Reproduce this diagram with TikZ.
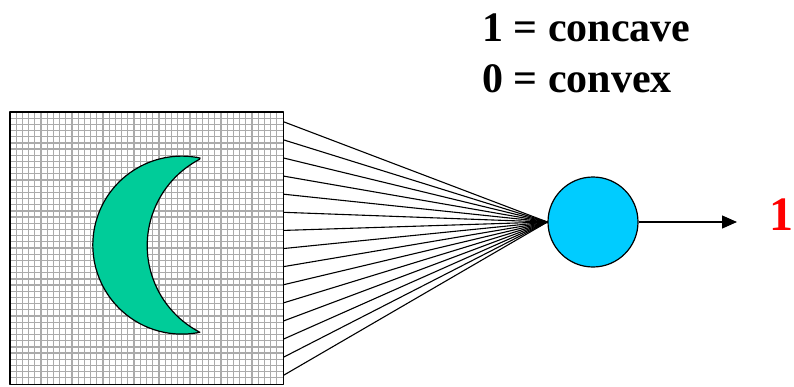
\documentclass[tikz,border=0pt]{standalone}
\usepackage{fontspec}
\setmainfont{Liberation Serif}
\usetikzlibrary{arrows.meta,calc}
\definecolor{moon}{HTML}{00CC99}
\definecolor{cellblue}{HTML}{00CCFF}
\definecolor{gridgray}{HTML}{ABABAB}
\tikzset{
  gridline/.style={draw=gridgray, line width=1.2pt},
  fanline/.style={draw=black, line width=1.1pt},
  legend/.style={anchor=base west, inner sep=0pt, font=\fontsize{42}{46}\selectfont\bfseries},
}
\begin{document}
\begin{tikzpicture}[x=1pt, y=-1pt, line join=round]
\useasboundingbox (0,0) rectangle (794,386);
% retina square
\node[fill=white, minimum width=273pt, minimum height=272pt, inner sep=0pt, anchor=north west] (sq) at (10,112) {};
\foreach \k in {1,...,43} {
  \draw[gridline] ({10+\k*273/44},112) -- ++(0,272);
  \draw[gridline] (10,{112+\k*272/44}) -- ++(273,0);
}
\draw[line width=1.3pt] (sq.north west) rectangle (sq.south east);
% crescent
\draw[fill=moon, line width=1.2pt]
  (200,158) arc[start angle=-78.2, end angle=-281.7, radius=89]
  arc[start angle=117.4, end angle=242.4, radius=97.5] -- cycle;
% neuron
\node[circle, draw, fill=cellblue, minimum size=90pt, inner sep=0pt, line width=1.2pt] (neuron) at (593,222) {};
% fan
\foreach \i in {0,...,14} {
  \draw[fanline] ($(sq.north east)+(0,{9.7+18.12*\i})$) -- (neuron.west);
}
% output
\coordinate (out) at (737,222);
\draw[line width=1.2pt, -{Triangle[length=15pt,width=13pt]}] (neuron.east) -- (out);
\node[anchor=base east, inner sep=0pt, text=red, font=\fontsize{48}{50}\selectfont\bfseries] (y) at (794,230) {1};
% legend
\node[legend] (l1) at (482,41) {1 = concave};
\node[legend] (l0) at (482,92) {0 = convex};
\end{tikzpicture}
\end{document}
